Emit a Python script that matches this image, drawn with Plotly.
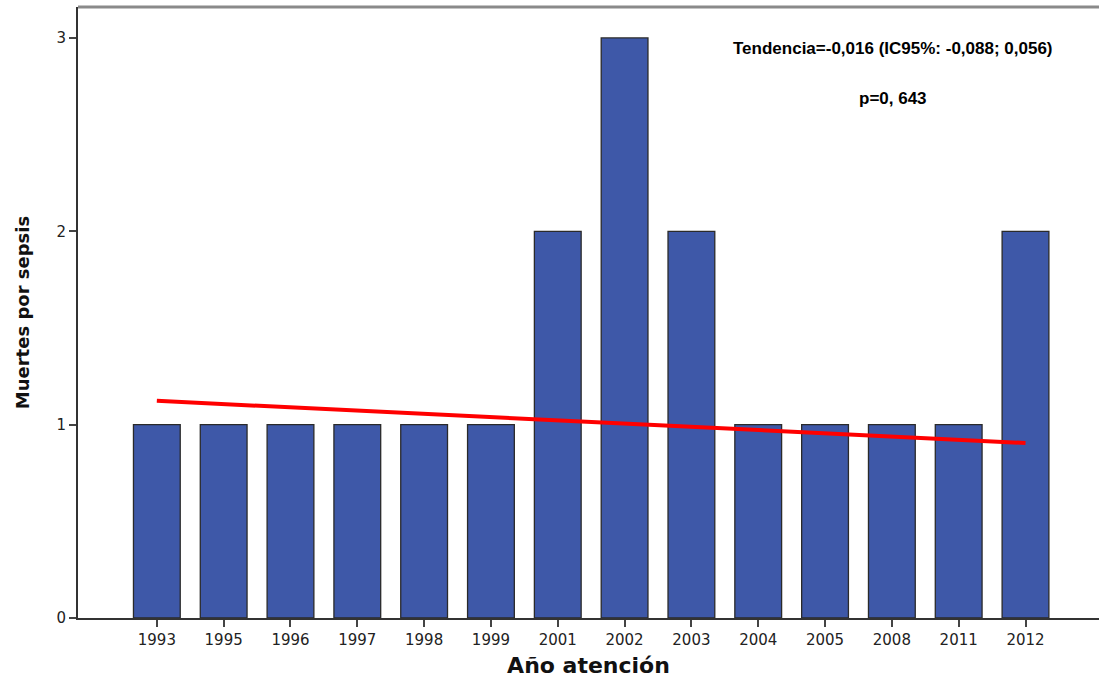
import plotly.graph_objects as go

years = ["1993", "1995", "1996", "1997", "1998", "1999", "2001", "2002",
         "2003", "2004", "2005", "2008", "2011", "2012"]
deaths = [1, 1, 1, 1, 1, 1, 2, 3, 2, 1, 1, 1, 1, 2]
trend_x = ["1993", "2012"]
trend_y = [1.123, 0.905]

fig = go.Figure()
fig.add_trace(go.Bar(
    x=years, y=deaths, width=0.7,
    marker=dict(color="#3E58A8", line=dict(color="#2a2a2a", width=1.3)),
    showlegend=False,
))
fig.add_trace(go.Scatter(
    x=trend_x, y=trend_y, mode="lines",
    line=dict(color="#FF0000", width=4), showlegend=False,
))

L, R, T, B, W, H = 78, 0, 7, 66, 1099, 684
ph = H - T - B
pw = W - L - R

fig.update_layout(
    width=W, height=H,
    margin=dict(l=L, r=R, t=T, b=B),
    paper_bgcolor="white", plot_bgcolor="white",
    bargap=0.3,
    font=dict(family="DejaVu Sans", size=15, color="#222"),
    xaxis=dict(
        type="category", range=[-1.18, 14.1],
        showline=True, linecolor="#333", linewidth=1.5,
        ticks="outside", ticklen=7, tickwidth=2, tickcolor="#444",
        tickfont=dict(family="DejaVu Sans", size=15, color="#222"),
        showgrid=False, zeroline=False,
        title=dict(text="<b>Año atención</b>", font=dict(family="DejaVu Sans", size=22, color="#111"), standoff=10),
    ),
    yaxis=dict(
        range=[0, 3.16], tickvals=[0, 1, 2, 3],
        showline=True, linecolor="#333", linewidth=2,
        ticks="outside", ticklen=7, tickwidth=1.5, tickcolor="#444",
        tickfont=dict(family="DejaVu Sans", size=15, color="#222"),
        showgrid=False, zeroline=False,
        title=dict(text="<b>Muertes por sepsis</b>", font=dict(family="DejaVu Sans", size=18, color="#111"), standoff=22),
    ),
    shapes=[dict(type="line", xref="paper", yref="paper", x0=0, x1=1, y0=1, y1=1,
                 line=dict(color="#8a8a8a", width=3))],
)
fig.add_annotation(
    x=(893 - L) / pw, y=1 - (48 - T) / ph, xref="paper", yref="paper",
    xanchor="center", yanchor="middle", showarrow=False,
    text="<b>Tendencia=-0,016 (IC95%: -0,088; 0,056)</b>",
    font=dict(family="Liberation Sans, Arial", size=17, color="#000"),
)
fig.add_annotation(
    x=(893 - L) / pw, y=1 - (99 - T) / ph, xref="paper", yref="paper",
    xanchor="center", yanchor="middle", showarrow=False,
    text="<b>p=0, 643</b>",
    font=dict(family="Liberation Sans, Arial", size=17, color="#000"),
)

fig.write_html("out.html")
